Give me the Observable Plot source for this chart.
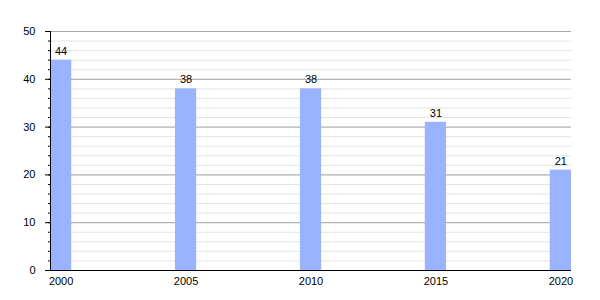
<!DOCTYPE html>
<html>
<head>
<meta charset="utf-8">
<script src="https://cdn.jsdelivr.net/npm/d3@7"></script>
<script src="https://cdn.jsdelivr.net/npm/@observablehq/plot@0.6"></script>
<style>
  html, body { margin: 0; padding: 0; background: #fff; }
  svg { font-family: "Liberation Sans", Arial, sans-serif; }
</style>
</head>
<body>
<div id="chart"></div>
<script>
const years = [2000, 2005, 2010, 2015, 2020];
const values = [44, 38, 38, 31, 21];
const yearDomain = d3.range(2000, 2021);
const majorTicks = [0, 10, 20, 30, 40, 50];
const minorTicks = d3.range(0, 51, 2);

const data = years.map((y, i) => ({year: y, value: values[i]}));

const chart = Plot.plot({
  width: 600,
  height: 300,
  marginLeft: 50,
  marginRight: 29,
  marginTop: 31,
  marginBottom: 30,
  style: {fontSize: "11px", fontFamily: "Liberation Sans, Arial, sans-serif", color: "#000"},
  x: {type: "band", domain: yearDomain, paddingInner: 0.15, paddingOuter: 0, align: 0, round: false, label: null},
  y: {domain: [0, 50], label: null},
  marks: [
    Plot.gridY(minorTicks, {stroke: "#e4e4e4", strokeOpacity: 1}),
    Plot.gridY(majorTicks, {stroke: "#a8a8a8", strokeOpacity: 1}),
    Plot.barY(data, {x: "year", y: "value", fill: "#99b3ff"}),
    Plot.text(data, {x: "year", y: "value", text: d => String(d.value), dy: -9, fill: "#000", fontSize: 11}),
    Plot.axisY(minorTicks, {tickSize: 2, text: null, stroke: "#000"}),
    Plot.axisY(majorTicks, {tickSize: 5, tickPadding: 10, stroke: "#000", fill: "#000"}),
    Plot.axisX(years, {tickSize: 0, tickPadding: 7, tickFormat: d => String(d), fill: "#000"}),
    Plot.frame({anchor: "left", stroke: "#000"}),
    Plot.ruleY([0], {stroke: "#000"})
  ]
});
document.getElementById("chart").appendChild(chart);
</script>
</body>
</html>
